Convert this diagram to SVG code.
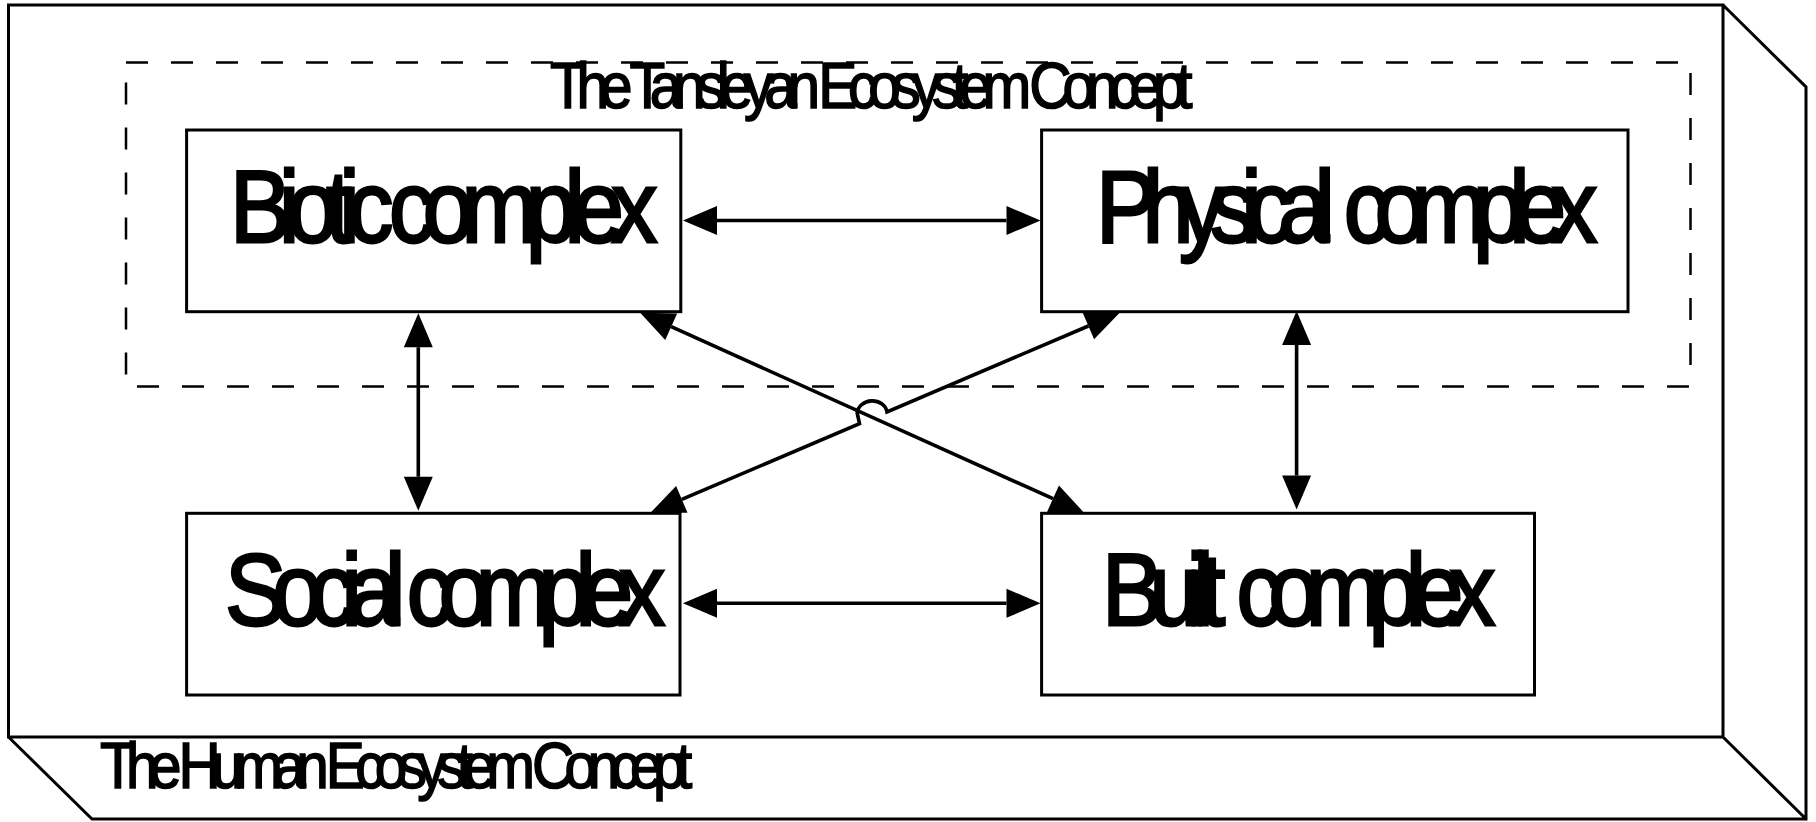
<svg xmlns="http://www.w3.org/2000/svg" width="1816" height="822" viewBox="0 0 1816 822">
<style>
.frame{fill:none;stroke:#000;stroke-width:3;stroke-linejoin:miter}
.dash{fill:none;stroke:#000;stroke-width:2.5;stroke-dasharray:22 23}
.box{fill:#fff;stroke:#000;stroke-width:3}
.node{font-family:"Liberation Sans",Arial,sans-serif;font-size:102px;fill:#000;stroke:#000;stroke-width:2.8}
.label{font-family:"Liberation Sans",Arial,sans-serif;font-size:65px;fill:#000;stroke:#000;stroke-width:1.6}
.conn{fill:none;stroke:#000;stroke-width:3.6;marker-start:url(#ah);marker-end:url(#ah)}
</style>
<defs>
<marker id="ah" markerUnits="userSpaceOnUse" markerWidth="35" markerHeight="30" refX="0" refY="14.5" orient="auto-start-reverse" overflow="visible">
<path d="M0,0 L34,14.5 L0,29 Z" fill="#000"/>
</marker>
</defs>
<rect width="1816" height="822" fill="#fff"/>
<g id="human-ecosystem">
<path class="frame" d="M8.5,5 H1723 V737 H8.5 Z M1723,5 L1806,87 V819 H92 L8.5,737 M1723,737 L1806,819"/>
<text class="label" transform="translate(100,788.3) scale(0.9,1)" textLength="658" lengthAdjust="spacing">The Human Ecosystem Concept</text>
</g>
<g id="tansleyan-ecosystem">
<rect class="dash" x="126" y="62.5" width="1564.5" height="324"/>
<text class="label" transform="translate(550,108.3) scale(0.9,1)" textLength="714" lengthAdjust="spacing">The Tansleyan Ecosystem Concept</text>
</g>
<g id="connectors">
<path class="conn" d="M717,220.5 H1006.5"/>
<path class="conn" d="M717,603.3 H1006.5"/>
<path class="conn" d="M418.3,347.3 V476.7"/>
<path class="conn" d="M1296.6,345 V475.5"/>
<path class="conn" d="M671.2,326.7 L1053,498.7"/>
<path class="conn" d="M1088.4,326 L887,411.9 A15 13 0 0 0 857.2,413 L859.5,423.6 L681.8,499.4"/>
</g>
<g id="biotic">
<rect class="box" x="186.6" y="130" width="494.2" height="181.7"/>
<text class="node" transform="translate(230,241.7) scale(0.9,1)" textLength="475" lengthAdjust="spacing" word-spacing="-6">Biotic complex</text>
</g>
<g id="physical">
<rect class="box" x="1041.6" y="130" width="586.4" height="181.7"/>
<text class="node" transform="translate(1096,241.7) scale(0.9,1)" textLength="557" lengthAdjust="spacing" word-spacing="14">Physical complex</text>
</g>
<g id="social">
<rect class="box" x="186.6" y="513.3" width="493.4" height="181.7"/>
<text class="node" transform="translate(225,625) scale(0.9,1)" textLength="489" lengthAdjust="spacing" word-spacing="4">Social complex</text>
</g>
<g id="built">
<rect class="box" x="1041.6" y="513.3" width="492.9" height="181.7"/>
<text class="node" transform="translate(1102,625) scale(0.9,1)" textLength="437" lengthAdjust="spacing" word-spacing="15">Built complex</text>
</g>
</svg>
